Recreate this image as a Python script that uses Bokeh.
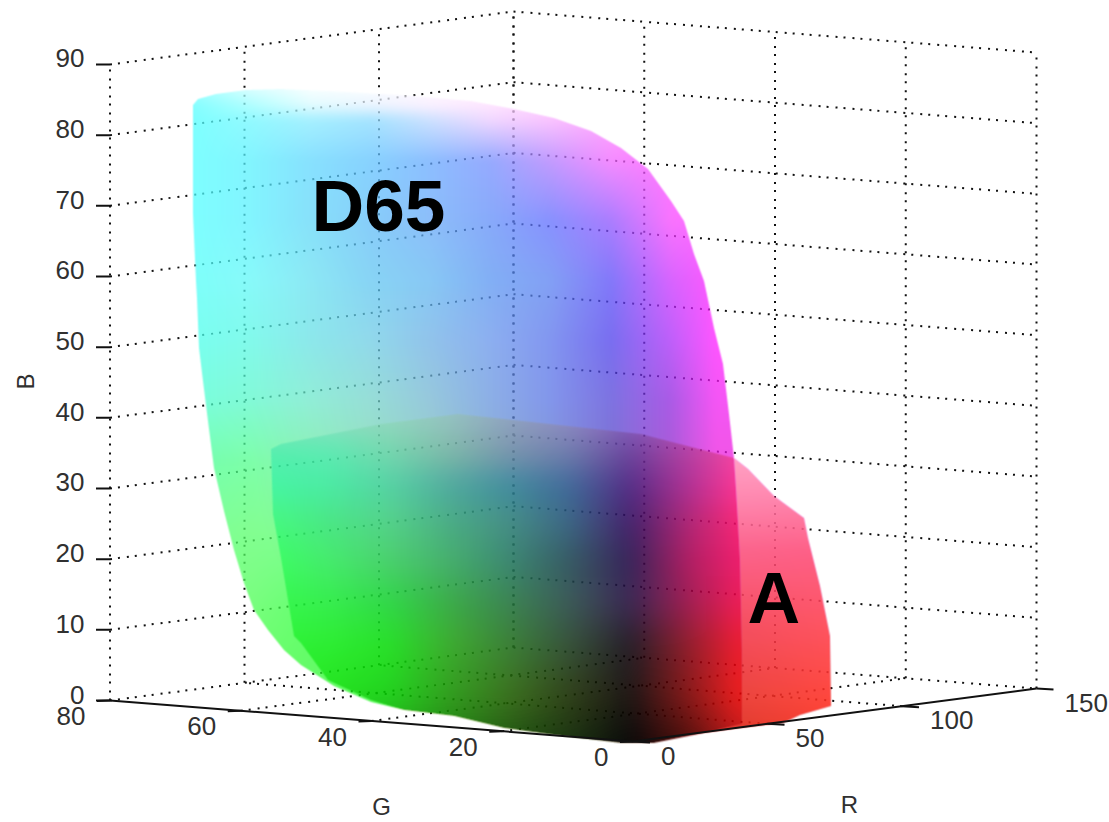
import numpy as np
from bokeh.plotting import figure
from bokeh.models import Range1d
from bokeh.core.properties import value
from bokeh.embed import file_html
from bokeh.resources import INLINE

R_TICKS = [0, 50, 100, 150]
G_TICKS = [0, 20, 40, 60, 80]
B_TICKS = [0, 10, 20, 30, 40, 50, 60, 70, 80, 90]

# Gamut silhouettes (screen x, y)
D65_X = [192,197,215,245,280,330,400,470,513,553,590,620,647,670,683,693,703,713,722,728,733,735,737,739,740,741,741,703,653,620,553,503,453,403,370,333,300,283,267,253,243,233,223,213,207,202,198,196,195,192]
D65_Y = [104,98,93,89,88,90,94,100,108,117,130,147,168,200,220,253,280,327,363,413,457,487,520,557,600,650,723,732,742,742,734,727,715,709,701,685,664,649,629,609,582,549,510,467,420,380,347,297,280,213]
A_X = [270,280,380,457,540,640,733,747,773,803,807,812,819,829,830,799,782,739,703,653,620,553,503,453,403,370,327,300,293,280,272]
A_Y = [448,443,423,413,422,433,457,468,495,517,537,557,585,635,705,714,722,727,732,742,742,734,727,715,709,699,679,642,635,557,513]

# Colours of the D65 surface, sampled on a coarse screen lattice
D65_CX = [190,250,310,370,430,490,550,610,670,715]
D65_CY = [85,105,120,160,220,280,340,400,460,530,610,690]
D65_RGB = [
 [(170,255,255),(225,255,255),(252,255,255),(255,255,255),(255,253,255),(255,245,255),(255,232,255),(255,205,255),(255,165,255),(255,120,255)],
 [(130,255,255),(175,255,255),(225,252,255),(235,245,255),(250,240,255),(255,230,255),(255,210,255),(255,180,255),(255,150,255),(255,120,255)],
 [(125,255,255),(145,250,255),(165,240,255),(165,228,255),(205,225,255),(240,215,255),(250,195,255),(255,165,255),(255,135,255),(255,115,255)],
 [(125,255,255),(130,245,255),(135,225,255),(135,210,255),(140,190,255),(150,170,255),(195,155,255),(245,140,255),(255,120,255),(255,110,255)],
 [(125,255,255),(130,245,255),(135,225,250),(135,205,250),(140,190,250),(135,170,250),(135,145,255),(170,125,255),(250,115,255),(255,105,255)],
 [(125,255,250),(135,250,250),(140,232,245),(135,212,245),(135,200,245),(130,175,245),(130,160,245),(130,120,250),(215,100,255),(255,88,255)],
 [(120,255,240),(130,250,235),(140,232,235),(145,217,235),(145,195,235),(140,175,240),(130,150,240),(120,110,240),(190,95,250),(255,85,255)],
 [(120,255,220),(130,250,215),(145,238,215),(150,222,215),(150,200,220),(140,175,230),(130,150,235),(125,115,225),(170,90,230),(245,85,245)],
 [(115,255,175),(125,255,170),(140,240,180),(150,225,190),(150,205,200),(140,175,210),(130,150,215),(125,115,210),(170,90,215),(240,85,230)],
 [(125,255,150),(130,255,145),(130,250,150),(130,240,150),(130,220,160),(130,190,170),(130,160,180),(125,120,190),(170,90,190),(235,85,200)],
 [(120,255,130),(120,255,125),(100,255,110),(90,250,100),(90,240,100),(90,200,110),(90,160,120),(90,120,130),(130,90,140),(220,70,150)],
 [(100,255,100),(100,255,100),(100,250,100),(95,250,95),(90,240,90),(80,200,80),(70,160,70),(60,110,60),(110,60,60),(220,50,60)],
]

# Colours of the A surface where it lies over D65
A_CX = [270,330,390,450,510,570,630,690,740]
A_CY = [415,450,485,520,560,600,645,695,745]
A_RGB = [
 [(150,225,195),(150,222,195),(150,215,195),(150,195,195),(145,165,195),(145,140,200),(140,100,200),(190,90,205),(240,85,210)],
 [(85,240,175),(95,235,180),(120,215,175),(130,185,170),(125,150,175),(115,125,175),(110,70,160),(185,65,165),(250,70,165)],
 [(70,245,165),(75,235,165),(85,210,165),(80,170,160),(65,140,160),(65,105,155),(85,45,135),(180,50,150),(255,55,150)],
 [(70,250,130),(75,230,135),(85,210,140),(75,172,135),(70,142,135),(60,102,135),(70,35,110),(180,40,120),(250,40,120)],
 [(60,255,100),(70,235,110),(75,208,110),(70,175,110),(60,135,115),(55,90,100),(55,35,90),(180,30,100),(240,30,110)],
 [(55,250,80),(55,238,80),(50,215,75),(60,172,75),(60,132,85),(60,90,90),(60,40,85),(165,30,85),(240,30,90)],
 [(45,245,55),(45,238,50),(40,225,40),(62,172,48),(60,128,55),(55,82,58),(38,30,40),(150,30,45),(240,30,50)],
 [(40,240,40),(35,228,30),(35,210,30),(50,158,30),(60,112,30),(48,65,25),(30,22,20),(140,25,25),(240,30,30)],
 [(35,200,30),(35,190,25),(30,160,20),(30,125,15),(30,85,15),(25,50,15),(8,8,8),(80,15,10),(190,25,25)],
]

# Colours of the part of A that sticks out past D65
OUT_CX = [742,830]
OUT_CY = [460,500,550,600,650,700,735]
OUT_RGB = [
 [(255,160,195),(255,160,195)],
 [(255,135,175),(255,130,170)],
 [(252,100,140),(255,95,135)],
 [(248,85,110),(255,88,110)],
 [(242,75,85),(255,80,85)],
 [(235,68,60),(255,70,60)],
 [(225,58,45),(250,60,45)],
]

# Orthographic view of the (R, G, B) box in screen pixels
OX, OY = 632.5, 741.0
RX, RY = 2.69, -0.353
GX, GY = -6.5375, -0.5125
BY = -7.067
RMAX, GMAX, BMAX = 150, 80, 90


def sx(r, g):
    return OX + RX * r + GX * g


def sy(r, g, b):
    return OY + RY * r + GY * g + BY * b


LEFT, TOP, W, H = 0, 0, 1109, 822
p = figure(width=W, height=H, output_backend="svg", toolbar_location=None,
           x_range=Range1d(LEFT, LEFT + W), y_range=Range1d(-(TOP + H), -TOP),
           min_border=0, background_fill_color="white", border_fill_color="white",
           outline_line_color=None)
p.axis.visible = False
p.grid.visible = False


def seg(x0, y0, x1, y1, **kw):
    p.line([x0, x1], [-y0, -y1], **kw)


dot = dict(line_color="#111111", line_width=2, line_dash="2 6 2 7")
for b in B_TICKS:
    seg(sx(0, GMAX), sy(0, GMAX, b), sx(RMAX, GMAX), sy(RMAX, GMAX, b), **dot)
    seg(sx(RMAX, GMAX), sy(RMAX, GMAX, b), sx(RMAX, 0), sy(RMAX, 0, b), **dot)
for r in R_TICKS:
    seg(sx(r, GMAX), sy(r, GMAX, 0), sx(r, GMAX), sy(r, GMAX, BMAX), **dot)
for g in G_TICKS:
    seg(sx(RMAX, g), sy(RMAX, g, 0), sx(RMAX, g), sy(RMAX, g, BMAX), **dot)
for r in R_TICKS[1:-1]:
    seg(sx(r, 0), sy(r, 0, 0), sx(r, GMAX), sy(r, GMAX, 0), **dot)
for g in G_TICKS[1:-1]:
    seg(sx(0, g), sy(0, g, 0), sx(RMAX, g), sy(RMAX, g, 0), **dot)

# ---- surfaces ----
IX0, IX1, IY0, IY1 = 180, 840, 80, 750
xs = np.arange(IX0, IX1) + 0.5
ys = np.arange(IY0, IY1) + 0.5
XX, YY = np.meshgrid(xs, ys)


def blur(a, k):
    if k < 2:
        return a
    pad = k // 2
    for axis in (0, 1):
        width = [(0, 0)] * a.ndim
        width[axis] = (pad, k - 1 - pad)
        b = np.pad(a, width, mode="edge")
        c = np.cumsum(np.insert(b, 0, 0, axis=axis), axis=axis)
        a = (np.take(c, range(k, c.shape[axis]), axis=axis) - np.take(c, range(0, c.shape[axis] - k), axis=axis)) / k
    return a


def mask(px, py, ss=3):
    """Coverage of a polygon on the image lattice by even-odd scan lines."""
    px, py = np.asarray(px, float), np.asarray(py, float)
    qx, qy = np.roll(px, -1), np.roll(py, -1)
    out = np.zeros(XX.shape)
    for i, yy in enumerate(ys):
        for off in (np.arange(ss) + 0.5) / ss - 0.5:
            y = yy + off
            hit = (py <= y) != (qy <= y)
            cr = np.sort(px[hit] + (y - py[hit]) * (qx[hit] - px[hit]) / (qy[hit] - py[hit]))
            for a, b in zip(cr[::2], cr[1::2]):
                l = np.clip(xs + 0.5 - a, 0, 1)
                r = np.clip(b - (xs - 0.5), 0, 1)
                out[i] += np.minimum(l, r) / ss
    return np.clip(out, 0, 1)


def field(cx, cy, rgb):
    """Bilinear colour field from a lattice of read colours."""
    g = np.asarray(rgb, float)
    u = np.interp(xs, cx, np.arange(len(cx)))
    v = np.interp(ys, cy, np.arange(len(cy)))
    i0 = np.clip(np.floor(u).astype(int), 0, len(cx) - 2)
    j0 = np.clip(np.floor(v).astype(int), 0, len(cy) - 2)
    fu = (u - i0)[None, :, None]
    fv = (v - j0)[:, None, None]
    c00 = g[np.ix_(j0, i0)]
    c01 = g[np.ix_(j0, i0 + 1)]
    c10 = g[np.ix_(j0 + 1, i0)]
    c11 = g[np.ix_(j0 + 1, i0 + 1)]
    return (c00 * (1 - fu) + c01 * fu) * (1 - fv) + (c10 * (1 - fu) + c11 * fu) * fv


m_d = blur(mask(D65_X, D65_Y), 2)
m_a = blur(mask(A_X, A_Y), 2)
col = blur(field(D65_CX, D65_CY, D65_RGB), 11)
col_a = blur(field(A_CX, A_CY, A_RGB), 31)
col_o = blur(field(OUT_CX, OUT_CY, OUT_RGB), 9)

m_in = (m_a * m_d)[..., None]
m_out = (m_a * (1 - m_d))[..., None]
rgb = col * (1 - m_in) + col_a * m_in
rgb = rgb * (1 - m_out) + col_o * m_out
cover = np.maximum(m_d, m_a)

# Translucent paint: the grid behind shows through, while the mixed colour over
# white stays the colour.
floor_alpha = 0.74 * (1 - m_a) + 0.88 * m_a
alpha = np.maximum(floor_alpha, 1 - rgb.min(axis=2) / 255.0)
paint = np.clip((rgb - (1 - alpha[..., None]) * 255) / alpha[..., None], 0, 255)

img = np.zeros(XX.shape + (4,), dtype=np.uint8)
img[..., :3] = paint.astype(np.uint8)
img[..., 3] = (alpha * cover * 255).astype(np.uint8)
img = img[::-1]
view = img.view(dtype=np.uint32).reshape(XX.shape)
p.image_rgba(image=[view], x=IX0, y=-IY1, dw=IX1 - IX0, dh=IY1 - IY0)

# ---- axes ----
solid = dict(line_color="#111111", line_width=2)
seg(sx(0, 0), sy(0, 0, 0), sx(RMAX, 0), sy(RMAX, 0, 0), **solid)
seg(sx(0, 0), sy(0, 0, 0), sx(0, GMAX), sy(0, GMAX, 0), **solid)
for b in B_TICKS:
    seg(sx(0, GMAX), sy(0, GMAX, b), sx(0, GMAX) - 14, sy(0, GMAX, b), **solid)
for g in G_TICKS:
    seg(sx(0, g), sy(0, g, 0), sx(0, g) - 13, sy(0, g, 0) + 0.5, **solid)
for r in R_TICKS:
    seg(sx(r, 0), sy(r, 0, 0), sx(r, 0) + 17, sy(r, 0, 0) + 1, **solid)

FONT = value("Liberation Sans")
TICK = dict(text_font=FONT, text_font_size="26px", text_color="#303030", text_baseline="middle")

p.text(x=[84] * len(B_TICKS), y=[-(sy(0, GMAX, b) - 6) for b in B_TICKS],
       text=[str(b) for b in B_TICKS], text_align="right", **TICK)
p.text(x=[sx(0, g) - 24.5 for g in G_TICKS], y=[-(sy(0, g, 0) + 15.5) for g in G_TICKS],
       text=[str(g) for g in G_TICKS], text_align="right", **TICK)
p.text(x=[sx(r, 0) + 28 for r in R_TICKS], y=[-(sy(r, 0, 0) + 14) for r in R_TICKS],
       text=[str(r) for r in R_TICKS], text_align="left", **TICK)

LAB = dict(text_font=FONT, text_font_size="24px", text_color="#303030",
           text_align="center", text_baseline="middle")
p.text(x=[25], y=[-381], text=["B"], angle=np.pi / 2, **LAB)
p.text(x=[381], y=[-806], text=["G"], **LAB)
p.text(x=[849], y=[-804], text=["R"], **LAB)

BIG = dict(text_font=FONT, text_font_style="bold", text_font_size="73px", text_color="#000000",
           text_align="left", text_baseline="alphabetic")
p.text(x=[311], y=[-205], text=["D65"], **BIG)
p.text(x=[747], y=[-597], text=["A"], **BIG)

open("out.html", "w").write(file_html(p, INLINE))
